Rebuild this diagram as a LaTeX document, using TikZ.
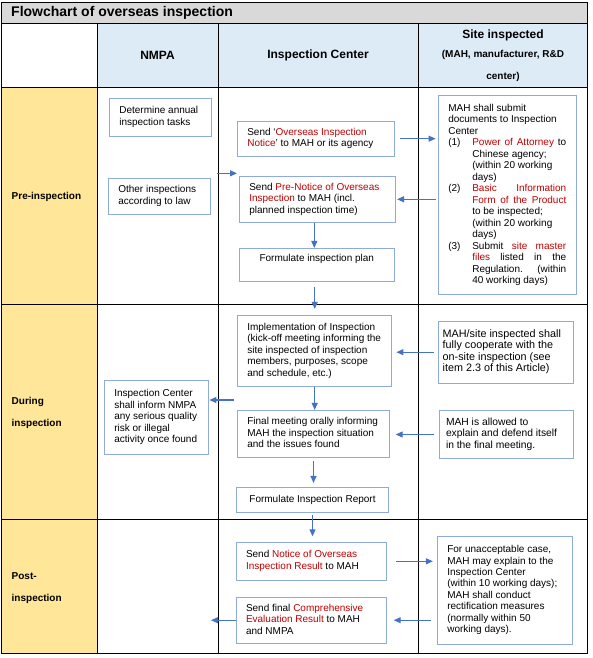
\documentclass[tikz,border=0pt]{standalone}
\usepackage{fontspec}
\setmainfont{Liberation Sans}
\usetikzlibrary{arrows.meta}
\definecolor{tred}{HTML}{C00000}
\definecolor{bord}{HTML}{8FAADC}
\definecolor{arr}{HTML}{4472C4}
\definecolor{hblue}{HTML}{DDEBF7}
\definecolor{pyel}{HTML}{FFE699}
\definecolor{tgray}{HTML}{D9D9D9}
\newcommand\rt[1]{\textcolor{tred}{#1}}
\newcommand\bt[2]{\makebox[#1][l]{\begin{tabular}{@{}l@{}}#2\end{tabular}}}
\begin{document}
\begin{tikzpicture}[x=1pt,y=-1pt,
  box/.style={draw=bord, line width=0.8pt, inner xsep=10pt, inner ysep=0pt, fill=white,
    font=\fontsize{10}{11.5}\selectfont},
  flow/.style={draw=arr, line width=1.1pt, -{Triangle[length=7pt,width=6pt]}},
  grid/.style={line width=0.9pt, black},
  phase/.style={font=\bfseries\fontsize{10}{21.7}\selectfont, align=left, inner sep=0pt, anchor=west},
  head/.style={font=\bfseries\fontsize{12}{14}\selectfont, inner sep=0pt}]
\useasboundingbox (0,0) rectangle (592,658);
% backgrounds
\fill[tgray] (1,2) rectangle (587.7,23);
\fill[hblue] (97,23) rectangle (587.7,87);
\fill[pyel] (1,87) rectangle (97,653.3);
% grid
\draw[grid] (1,2) rectangle (587.7,653.3);
\draw[grid] (1,23) -- (587.7,23);
\draw[grid] (1,87) -- (587.7,87);
\draw[grid] (1,304) -- (587.7,304);
\draw[grid] (1,519) -- (587.7,519);
\draw[grid] (97,23) -- (97,653.3);
\draw[grid] (218,23) -- (218,653.3);
\draw[grid] (418,23) -- (418,653.3);
% title and headers
\node[font=\bfseries\fontsize{14}{16}\selectfont, inner sep=0pt, anchor=west] (title) at (11,13) {Flowchart of overseas inspection};
\node[head] (hnmpa) at (157.5,55) {NMPA};
\node[head] (hic) at (318,55) {Inspection Center};
\node[head, anchor=base] (hs1) at (503,39) {Site inspected};
\node[font=\bfseries\fontsize{10}{12}\selectfont, inner sep=0pt, anchor=base] (hs2) at (503,58) {(MAH, manufacturer, R\&D};
\node[font=\bfseries\fontsize{10}{12}\selectfont, inner sep=0pt, anchor=base] (hs3) at (503,79.6) {center)};
% phases
\node[phase] (p1) at (11.5,197) {Pre-inspection};
\node[phase] (p2) at (11.5,413) {During\\inspection};
\node[phase] (p3) at (11.5,588) {Post-\\inspection};
% pre-inspection boxes
\node[box, minimum width=102pt, minimum height=37.7pt] (det) at (160.3,117.2)
  {\bt{82pt}{Determine annual\\inspection tasks}};
\node[box, minimum width=102pt, minimum height=35.7pt] (oth) at (159.3,196.2)
  {\bt{82pt}{Other inspections\\according to law}};
\node[box, minimum width=157pt, minimum height=34.7pt] (notice) at (315.8,138.7)
  {\bt{137pt}{Send `\rt{Overseas Inspection}\\\rt{Notice}' to MAH or its agency}};
\node[box, minimum width=156pt, minimum height=46.7pt] (prenot) at (317.3,199.3)
  {\bt{136pt}{Send \rt{Pre-Notice of Overseas}\\\rt{Inspection} to MAH (incl.\\planned inspection time)}};
\node[box, minimum width=155pt, minimum height=32.7pt] (plan) at (316.8,264.7)
  {\begin{tabular}{@{}c@{}}Formulate inspection plan\\ \mbox{}\end{tabular}};
\node[box, minimum width=138.4pt, minimum height=198.6pt] (site1) at (507.5,195)
  {\bt{118.4pt}{MAH shall submit\\documents to Inspection\\Center\\
  \makebox[24pt][l]{(1)}\makebox[94pt][s]{\rt{Power of Attorney} to}\\
  \hspace*{24pt}Chinese agency;\\
  \hspace*{24pt}(within 20 working\\
  \hspace*{24pt}days)\\
  \makebox[24pt][l]{(2)}\makebox[94pt][s]{\rt{Basic Information}}\\
  \hspace*{24pt}\makebox[94pt][s]{\rt{Form of the Product}}\\
  \hspace*{24pt}to be inspected;\\
  \hspace*{24pt}(within 20 working\\
  \hspace*{24pt}days)\\
  \makebox[24pt][l]{(3)}\makebox[94pt][s]{Submit \rt{site master}}\\
  \hspace*{24pt}\makebox[94pt][s]{\rt{files} listed in the}\\
  \hspace*{24pt}\makebox[94pt][s]{Regulation. (within}\\
  \hspace*{24pt}40 working days)}};
% during inspection boxes
\node[box, inner xsep=9.6pt, minimum width=154pt, minimum height=71pt] (impl) at (314.7,350.8)
  {\bt{134.8pt}{Implementation of Inspection\\(kick-off meeting informing the\\site inspected of inspection\\members, purposes, scope\\and schedule, etc.)}};
\node[box, minimum width=104pt, minimum height=74pt] (nmpa3) at (156.3,417.3)
  {\bt{84pt}{Inspection Center\\shall inform NMPA\\any serious quality\\risk or illegal\\activity once found}};
\node[box, inner xsep=9.6pt, minimum width=151.6pt, minimum height=46.7pt] (final) at (313.5,433.7)
  {\bt{132.4pt}{Final meeting orally informing\\MAH the inspection situation\\and the issues found}};
\node[box, minimum width=151.6pt, minimum height=24.7pt] (report) at (312.5,499.7)
  {Formulate Inspection Report};
\node[box, inner xsep=4.4pt, minimum width=135pt, minimum height=62.3pt,
  font=\fontsize{10.8}{11.2}\selectfont] (coop) at (505.8,352.2)
  {\bt{126.2pt}{MAH/site inspected shall\\fully cooperate with the\\on-site inspection (see\\item 2.3 of this Article)}};
\node[box, inner xsep=6.7pt, minimum width=134pt, minimum height=47.6pt,
  font=\fontsize{10.3}{11.7}\selectfont] (allowed) at (506.3,434.5)
  {\bt{120.6pt}{MAH is allowed to\\explain and defend itself\\in the final meeting.}};
% post-inspection boxes
\node[box, inner xsep=9.3pt, minimum width=149.6pt, minimum height=38pt] (result) at (311.5,561.3)
  {\bt{131pt}{Send \rt{Notice of Overseas}\\\rt{Inspection Result} to MAH}};
\node[box, inner xsep=9.3pt, minimum width=149.6pt, minimum height=45.7pt] (compr) at (311.5,620.2)
  {\bt{131pt}{Send final \rt{Comprehensive}\\\rt{Evaluation Result} to MAH\\and NMPA}};
\node[box, minimum width=135pt, minimum height=107.3pt, font=\fontsize{10}{11.4}\selectfont] (unacc) at (504.8,590.3)
  {\bt{115pt}{For unacceptable case,\\MAH may explain to the\\Inspection Center\\(within 10 working days);\\MAH shall conduct\\rectification measures\\(normally within 50\\working days).}};
% free ends
\coordinate (n2is) at (216.7,173.3);
\coordinate (n2ie) at (237,173.3);
\coordinate (i2ns) at (234.3,400);
\coordinate (c2ne) at (211,619.7);
% connectors
\draw[flow] (n2is) -- (n2ie);
\draw[flow] ([xshift=5pt]notice.east) -- ([xshift=-2.3pt]notice.east -| site1.west);
\draw[flow] ([xshift=-2.3pt]site1.west |- prenot.east) -- ([xshift=1.4pt]prenot.east);
\draw[flow] ([xshift=-3pt]prenot.south) -- ([xshift=-3pt]prenot.south |- plan.north);
\draw[flow] ([yshift=-6pt]plan.south -| impl.north) -- ([yshift=6pt]impl.north);
\draw[flow] ([xshift=-4pt]coop.west) -- ([xshift=4.3pt]coop.west -| impl.east);
\draw[flow] (impl.south) -- (impl.south |- final.north);
\draw[flow] (i2ns) -- ([xshift=0.7pt]i2ns -| nmpa3.east);
\draw[flow] ([xshift=-5pt]allowed.west) -- ([xshift=6pt]allowed.west -| final.east);
\draw[flow] ([yshift=-3.7pt]final.south) -- ([yshift=4pt]final.south |- report.north);
\draw[flow] ([yshift=-2.3pt]report.south) -- ([yshift=5.6pt]report.south |- result.north);
\draw[flow] ([xshift=9.7pt]result.east) -- ([xshift=-4pt]result.east -| unacc.west);
\draw[flow] ([xshift=-5.6pt]unacc.west |- compr.east) -- ([xshift=7pt]compr.east);
\draw[flow] (compr.west) -- (compr.west -| c2ne);
\end{tikzpicture}
\end{document}
